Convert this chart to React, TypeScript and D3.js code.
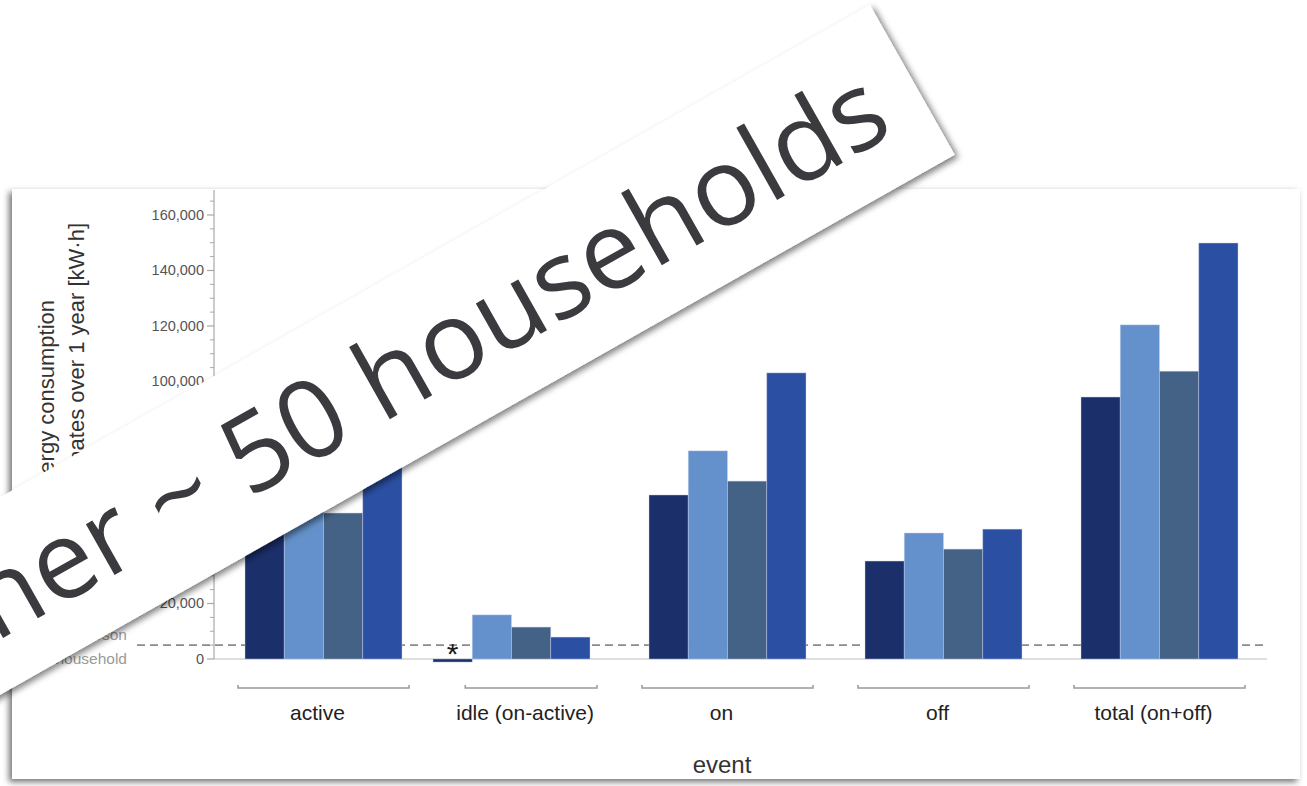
import React from 'react';
import * as d3 from 'd3';

// Event categories along the x axis
const categories = ['active', 'idle (on-active)', 'on', 'off', 'total (on+off)'];

// Four household groups, one bar each per event
const seriesNames = ['group 1', 'group 2', 'group 3', 'group 4'];
const seriesColors = ['#1b2f6b', '#6491cb', '#446285', '#2b4fa3'];

// Yearly energy consumption estimates [kW·h]
const activeValues = [60200, 59100, 52600, 95200];
const idleValues = [-1100, 15900, 11500, 7900];
const onValues = [59100, 75000, 64100, 103100];
const offValues = [35300, 45400, 39600, 46800];
const totalValues = [94400, 120400, 103700, 149900];

// Reference level: one person household
const referenceLevel = 5000;
const referenceLabel = ['1 person', 'household'];

const yMajorTicks = [0, 20000, 40000, 60000, 80000, 100000, 120000, 140000, 160000];
const yMinorStep = 5000;

const yTitle = ['Energy consumption', 'estimates over 1 year [kW·h]'];
const xTitle = 'event';
const bannerText = 'Together ~ 50 households';

const chartFont = '"Liberation Sans", Arial, Helvetica, sans-serif';

export default function App() {
  const W = 1307;
  const H = 786;

  const valuesByCategory = [activeValues, idleValues, onValues, offValues, totalValues];
  const table = categories.map((category, i) => ({
    category,
    index: i,
    values: seriesNames.map((s, j) => ({ series: s, color: seriesColors[j], value: valuesByCategory[i][j] })),
  }));

  const y = d3.scaleLinear().domain([0, 169000]).range([659, 190]);
  const groupX = d3.scaleLinear().domain([0, 1, 4]).range([245, 433, 1081]);
  const inner = d3.scaleBand<string>().domain(seriesNames).range([0, 157]);

  const axisX0 = 214;
  const axisX1 = 1267;
  const minorTicks = d3.range(0, 169000, yMinorStep).filter((v) => !yMajorTicks.includes(v));
  const fmt = d3.format(',');

  // banner geometry (rotated strip laid over the chart)
  const bannerAngle = -29.5;

  return (
    <div style={{ position: 'fixed', left: 0, top: 0, width: W, height: H, background: '#fff' }}>
      <svg width={W} height={H} viewBox={`0 0 ${W} ${H}`} style={{ display: 'block' }}>
        <defs>
          <filter id="cardShadow" x="-5%" y="-5%" width="110%" height="115%">
            <feDropShadow dx={-3} dy={3} stdDeviation={3} floodColor="#000" floodOpacity={0.55} />
          </filter>
          <filter id="bannerShadow" x="-10%" y="-30%" width="120%" height="160%">
            <feDropShadow dx={2} dy={4} stdDeviation={3} floodColor="#000" floodOpacity={0.5} />
          </filter>
        </defs>

        {/* card */}
        <rect x={12} y={189} width={1288} height={590} fill="#fff" filter="url(#cardShadow)" />

        {/* y axis title */}
        <g fontFamily={chartFont} fontSize={22} fill="#333">
          <text transform={`translate(54,300) rotate(-90)`} textAnchor="end">{yTitle[0]}</text>
          <text transform={`translate(84,223) rotate(-90)`} textAnchor="end">{yTitle[1]}</text>
        </g>

        {/* y axis */}
        <g fontFamily={chartFont} fontSize={14.5} fill="#555">
          <line x1={axisX0} x2={axisX0} y1={y(0)} y2={y(169000)} stroke="#a8a8a8" strokeWidth={1.2} />
          {minorTicks.map((v) => (
            <line key={'m' + v} x1={axisX0 - 4} x2={axisX0} y1={y(v)} y2={y(v)} stroke="#a8a8a8" strokeWidth={1} />
          ))}
          {yMajorTicks.map((v) => (
            <g key={'t' + v}>
              <line x1={axisX0 - 7} x2={axisX0} y1={y(v)} y2={y(v)} stroke="#a8a8a8" strokeWidth={1.2} />
              <text x={204} y={y(v) + 5} textAnchor="end">{fmt(v)}</text>
            </g>
          ))}
        </g>

        {/* reference level */}
        <g fontFamily={chartFont} fontSize={15.5} fill="#9a9a9a">
          <text x={127} y={640} textAnchor="end">{referenceLabel[0]}</text>
          <text x={127} y={664} textAnchor="end">{referenceLabel[1]}</text>
        </g>
        <line x1={137} x2={axisX1} y1={y(referenceLevel)} y2={y(referenceLevel)} stroke="#8a8a8a" strokeWidth={1.7} strokeDasharray="8,5" />

        {/* x axis */}
        <line x1={axisX0} x2={axisX1} y1={y(0)} y2={y(0)} stroke="#bdbdbd" strokeWidth={1.2} />

        {/* bars */}
        {table.map((g) => (
          <g key={g.category} transform={`translate(${groupX(g.index)},0)`}>
            {g.values.map((d) => (
              <rect
                key={d.series}
                x={inner(d.series)}
                width={inner.bandwidth()}
                y={y(Math.max(0, d.value))}
                height={Math.abs(y(d.value) - y(0))}
                fill={d.color}
                stroke="rgba(200,210,235,0.55)"
                strokeWidth={0.8}
              />
            ))}
          </g>
        ))}

        {/* marker for the negative idle value */}
        <text x={groupX(1) + inner(seriesNames[0])! + inner.bandwidth() / 2} y={664} textAnchor="middle" fontFamily={chartFont} fontSize={30} fill="#1a1a1a">*</text>

        {/* category brackets and labels */}
        <g fontFamily={chartFont} fontSize={21} fill="#222">
          {table.map((g) => {
            const firstPos = g.values.find((d) => d.value >= 0)!;
            const x0 = groupX(g.index) + inner(firstPos.series)! - 7;
            const x1 = groupX(g.index) + inner.range()[1] + 7;
            const by = 688;
            return (
              <g key={'b' + g.category}>
                <path d={`M${x0},${by - 3}L${x0},${by}L${x1},${by}L${x1},${by - 3}`} fill="none" stroke="#999" strokeWidth={1.5} />
                <text x={(x0 + x1) / 2 - 6} y={720} textAnchor="middle">{g.category}</text>
              </g>
            );
          })}
        </g>

        {/* x axis title */}
        <text x={722} y={773} textAnchor="middle" fontFamily={chartFont} fontSize={24} fill="#333">{xTitle}</text>

        {/* rotated banner */}
        <g transform={`translate(870,5) rotate(${bannerAngle})`}>
          <rect x={-1600} y={0} width={1600} height={172} fill="#fff" filter="url(#bannerShadow)" />
          <text x={-40} y={124} textAnchor="end" fontFamily='"Open Sans", "Segoe UI", sans-serif' fontSize={109} fill="#3a3a3f">
            {bannerText}
          </text>
        </g>
      </svg>
    </div>
  );
}
